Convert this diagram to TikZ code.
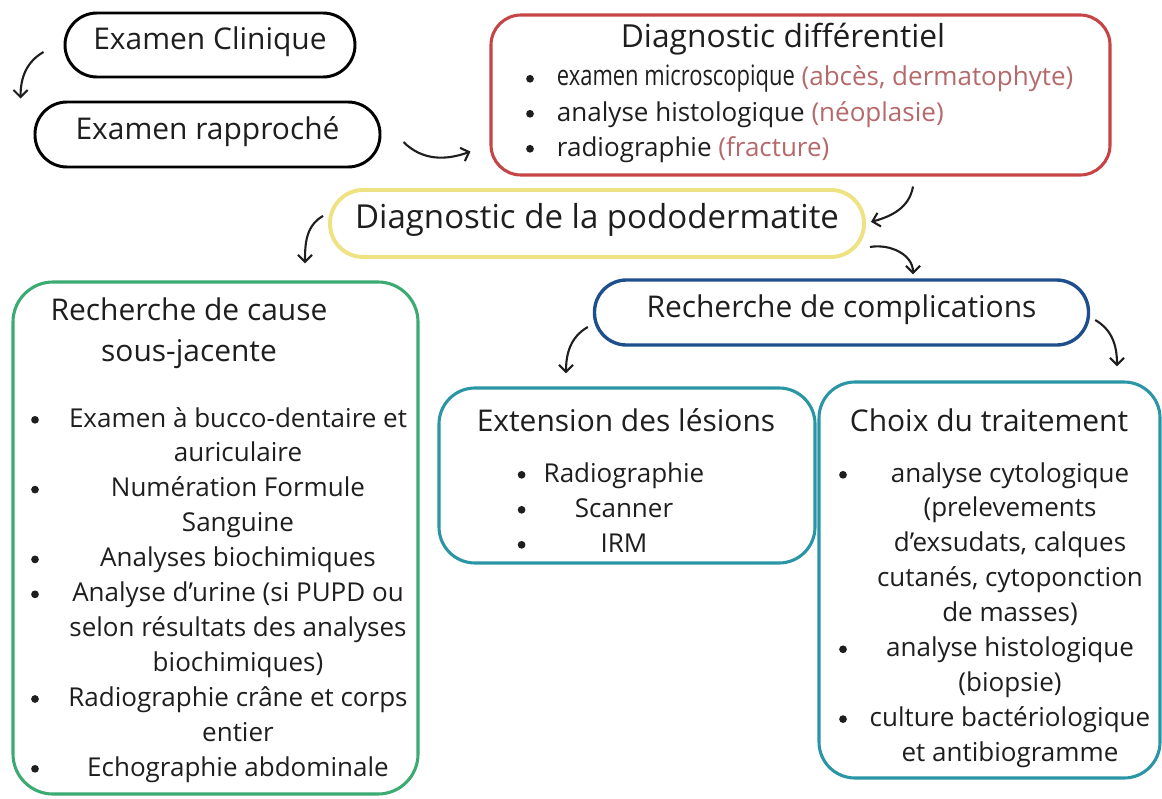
\documentclass[tikz,border=0pt]{standalone}
\usepackage{fontspec}
\setmainfont{Open Sans}
\newfontfamily\condfont[FakeStretch=0.78]{Open Sans}
\usetikzlibrary{arrows.meta,calc}

\definecolor{diffred}{RGB}{198,68,70}
\definecolor{difftext}{RGB}{181,105,107}
\definecolor{podoyellow}{RGB}{238,226,130}
\definecolor{causegreen}{RGB}{60,171,114}
\definecolor{complblue}{RGB}{30,79,140}
\definecolor{extteal}{RGB}{42,149,165}
\definecolor{inktext}{RGB}{30,30,30}

\newcommand{\titlefont}{\fontsize{21.3}{28.5}\selectfont}
\newcommand{\listfont}{\fontsize{18.5}{24.8}\selectfont}

\begin{document}
\begin{tikzpicture}[text=inktext,
        pill/.style={draw, line width=2.1pt, rounded corners=0.8cm, minimum height=1.6cm,
            font=\titlefont, text height=0.88em, text depth=0.2em},
        panel/.style={draw, line width=2.2pt, rounded corners=0.9cm},
        listline/.style={anchor=base, font=\listfont},
        bulletdot/.style={circle, fill=inktext, inner sep=0pt, minimum size=5.5pt, yshift=0.18cm},
        curvearrow/.style={line width=1.5pt, draw=inktext, -{Straight Barb[length=5pt,width=10pt]}}]

        \useasboundingbox (0, 0) rectangle (29.05, -19.95);

        \begin{scope}
            % Examens
            \node[pill, minimum width=7.25cm] (clin) at (5.25, -1.125) {Examen Clinique};
            \node[pill, minimum width=8.625cm, minimum height=1.625cm] (rapp) at (5.1875, -3.3625) {Examen rapproché};

            % Diagnostic differentiel
            \node[panel, draw=diffred, rounded corners=0.75cm, minimum width=15.475cm, minimum height=4cm] (diff) at (20.0125, -2.375) {};
            \node[anchor=base, font=\fontsize{22.6}{28}\selectfont] (difftitle) at (19.575, -1.2) {Diagnostic différentiel};
            \node[bulletdot] (d1) at (13.25, -2.15) {};
            \node[listline, anchor=base west] (d1t) at (13.8, -2.15) {{\condfont\fontsize{20}{24}\selectfont examen microscopique} \textcolor{difftext}{(abcès, dermatophyte)}};
            \node[bulletdot] (d2) at (13.25, -3.025) {};
            \node[listline, anchor=base west] (d2t) at (13.8, -3.025) {analyse histologique \textcolor{difftext}{(néoplasie)}};
            \node[bulletdot] (d3) at (13.25, -3.9) {};
            \node[listline, anchor=base west] (d3t) at (13.8, -3.9) {radiographie \textcolor{difftext}{(fracture)}};

            % Diagnostic
            \node[pill, draw=podoyellow, line width=2.8pt, minimum width=13.35cm, minimum height=1.675cm, rounded corners=0.83cm,
                font=\fontsize{23.5}{28}\selectfont] (podo) at (14.925, -5.5875) {Diagnostic de la pododermatite};
            \node[pill, draw=complblue, line width=2.4pt, minimum width=12.35cm, minimum height=1.625cm] (compl) at (21.0375, -7.8125) {Recherche de complications};
        \end{scope}

        \begin{scope}
            % Recherche de cause sous-jacente
            \node[panel, draw=causegreen, minimum width=10.125cm, minimum height=12.8cm, rounded corners=1cm] (cause) at (5.3875, -13.45) {};
            \node[anchor=base, font=\titlefont, align=center] (causetitle) at (4.725, -9.025) {Recherche de cause\\sous-jacente};

            \node[listline] (c1) at (5.95, -10.675) {Examen à bucco-dentaire et};
            \node[listline] (c2) at (5.95, -11.5475) {auriculaire};
            \node[listline] (c3) at (5.95, -12.42) {Numération Formule};
            \node[listline] (c4) at (5.95, -13.2925) {Sanguine};
            \node[listline] (c5) at (5.95, -14.165) {Analyses biochimiques};
            \node[listline] (c6) at (5.95, -15.0375) {Analyse d’urine (si PUPD ou};
            \node[listline] (c7) at (5.95, -15.91) {selon résultats des analyses};
            \node[listline] (c8) at (5.95, -16.7825) {biochimiques)};
            \node[listline] (c9) at (5.95, -17.655) {Radiographie crâne et corps};
            \node[listline] (c10) at (5.95, -18.5275) {entier};
            \node[listline] (c11) at (5.95, -19.4) {Echographie abdominale};

            \node[bulletdot] (cb1) at (0.875, -10.675) {};
            \node[bulletdot] (cb2) at (0.875, -12.42) {};
            \node[bulletdot] (cb3) at (0.875, -14.165) {};
            \node[bulletdot] (cb4) at (0.875, -15.0375) {};
            \node[bulletdot] (cb5) at (0.875, -17.655) {};
            \node[bulletdot] (cb6) at (0.875, -19.4) {};
        \end{scope}

        \begin{scope}
            % Extension des lesions
            \node[panel, draw=extteal, minimum width=9.4cm, minimum height=4.375cm] (ext) at (15.675, -11.8875) {};
            \node[anchor=base, font=\titlefont] (exttitle) at (15.65, -10.775) {Extension des lésions};
            \node[bulletdot] (e1) at (13.04, -12.05) {};
            \node[listline] (e1t) at (15.6, -12.05) {Radiographie};
            \node[bulletdot] (e2) at (13.04, -12.925) {};
            \node[listline] (e2t) at (15.6, -12.925) {Scanner};
            \node[bulletdot] (e3) at (13.04, -13.8) {};
            \node[listline] (e3t) at (15.6, -13.8) {IRM};

            % Choix du traitement
            \node[panel, draw=extteal, minimum width=8.525cm, minimum height=9.9cm] (choix) at (24.7375, -14.5) {};
            \node[anchor=base, font=\titlefont] (choixtitle) at (24.725, -10.775) {Choix du traitement};
            \node[listline] (t1) at (25.25, -12.05) {analyse cytologique};
            \node[listline] (t2) at (25.25, -12.9225) {(prelevements};
            \node[listline] (t3) at (25.25, -13.795) {d’exsudats, calques};
            \node[listline] (t4) at (25.25, -14.6675) {cutanés, cytoponction};
            \node[listline] (t5) at (25.25, -15.54) {de masses)};
            \node[listline] (t6) at (25.25, -16.4125) {analyse histologique};
            \node[listline] (t7) at (25.25, -17.285) {(biopsie)};
            \node[listline] (t8) at (25.25, -18.1575) {culture bactériologique};
            \node[listline] (t9) at (25.25, -19.03) {et antibiogramme};
            \node[bulletdot] (tb1) at (21.075, -12.05) {};
            \node[bulletdot] (tb2) at (21.075, -16.4125) {};
            \node[bulletdot] (tb3) at (21.075, -18.1575) {};
        \end{scope}

        % Arrows
        \draw[curvearrow] ($(clin.west)+(-0.5,-0.175)$) to[out=210, in=90] ($(rapp.north west)+(-0.325,0.05)$);
        \draw[curvearrow] ($(rapp.east)+(0.55,-0.1875)$) to[out=-45, in=200] ($(diff.south west)+(-0.475,0.625)$);
        \draw[curvearrow] ($(diff.south)+(2.8125,-0.25)$) to[out=-100, in=15] ($(podo.east)+(0.125,0.04)$);
        \draw[curvearrow] ($(podo.west)+(-0.125,0.19)$) to[out=210, in=90] ($(cause.north)+(2.2375,0.425)$);
        \draw[curvearrow] ($(podo.east)+(0.1,-0.5875)$) to[out=10, in=90] ($(compl.north)+(1.7875,0.1)$);
        \draw[curvearrow] ($(compl.west)+(-0.125,-0.3625)$) to[out=210, in=90] ($(ext.north)+(-1.525,0.325)$);
        \draw[curvearrow] ($(compl.east)+(0.125,-0.1875)$) to[out=-30, in=90] ($(choix.north)+(3.1875,0.35)$);
    \end{tikzpicture}
\end{document}
